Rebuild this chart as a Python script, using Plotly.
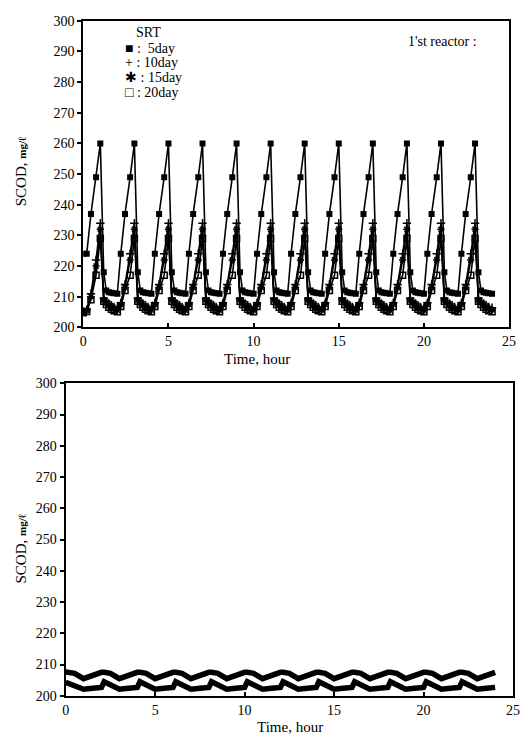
import plotly.graph_objects as go

# ---------------- data: top panel (1'st reactor) ----------------
t_top = [
    0, 0.2, 0.45, 0.75, 1, 1.2, 1.35, 1.5, 1.65, 1.8,
    2, 2.2, 2.45, 2.75, 3, 3.2, 3.35, 3.5, 3.65, 3.8,
    4, 4.2, 4.45, 4.75, 5, 5.2, 5.35, 5.5, 5.65, 5.8,
    6, 6.2, 6.45, 6.75, 7, 7.2, 7.35, 7.5, 7.65, 7.8,
    8, 8.2, 8.45, 8.75, 9, 9.2, 9.35, 9.5, 9.65, 9.8,
    10, 10.2, 10.45, 10.75, 11, 11.2, 11.35, 11.5, 11.65, 11.8,
    12, 12.2, 12.45, 12.75, 13, 13.2, 13.35, 13.5, 13.65, 13.8,
    14, 14.2, 14.45, 14.75, 15, 15.2, 15.35, 15.5, 15.65, 15.8,
    16, 16.2, 16.45, 16.75, 17, 17.2, 17.35, 17.5, 17.65, 17.8,
    18, 18.2, 18.45, 18.75, 19, 19.2, 19.35, 19.5, 19.65, 19.8,
    20, 20.2, 20.45, 20.75, 21, 21.2, 21.35, 21.5, 21.65, 21.8,
    22, 22.2, 22.45, 22.75, 23, 23.2, 23.35, 23.5, 23.65, 23.8,
    24,
]
scod_5day = [
    224, 224, 237, 249, 260, 218, 212, 211.5, 211.3, 211.1,
    211, 224, 237, 249, 260, 218, 212, 211.5, 211.3, 211.1,
    211, 224, 237, 249, 260, 218, 212, 211.5, 211.3, 211.1,
    211, 224, 237, 249, 260, 218, 212, 211.5, 211.3, 211.1,
    211, 224, 237, 249, 260, 218, 212, 211.5, 211.3, 211.1,
    211, 224, 237, 249, 260, 218, 212, 211.5, 211.3, 211.1,
    211, 224, 237, 249, 260, 218, 212, 211.5, 211.3, 211.1,
    211, 224, 237, 249, 260, 218, 212, 211.5, 211.3, 211.1,
    211, 224, 237, 249, 260, 218, 212, 211.5, 211.3, 211.1,
    211, 224, 237, 249, 260, 218, 212, 211.5, 211.3, 211.1,
    211, 224, 237, 249, 260, 218, 212, 211.5, 211.3, 211.1,
    211, 224, 237, 249, 260, 218, 212, 211.5, 211.3, 211.1,
    211,
]
scod_10day = [
    205.2, 205.8, 211, 222, 234, 209.5, 208.5, 207.8, 207.2, 206.7,
    206.3, 208, 214, 224, 234, 209.5, 208.5, 207.8, 207.2, 206.7,
    206.3, 208, 214, 224, 234, 209.5, 208.5, 207.8, 207.2, 206.7,
    206.3, 208, 214, 224, 234, 209.5, 208.5, 207.8, 207.2, 206.7,
    206.3, 208, 214, 224, 234, 209.5, 208.5, 207.8, 207.2, 206.7,
    206.3, 208, 214, 224, 234, 209.5, 208.5, 207.8, 207.2, 206.7,
    206.3, 208, 214, 224, 234, 209.5, 208.5, 207.8, 207.2, 206.7,
    206.3, 208, 214, 224, 234, 209.5, 208.5, 207.8, 207.2, 206.7,
    206.3, 208, 214, 224, 234, 209.5, 208.5, 207.8, 207.2, 206.7,
    206.3, 208, 214, 224, 234, 209.5, 208.5, 207.8, 207.2, 206.7,
    206.3, 208, 214, 224, 234, 209.5, 208.5, 207.8, 207.2, 206.7,
    206.3, 208, 214, 224, 234, 209.5, 208.5, 207.8, 207.2, 206.7,
    206.4,
]
scod_15day = [
    205, 205.5, 210, 220, 232, 209, 208, 207.2, 206.5, 206,
    205.6, 207.5, 213, 222, 232, 209, 208, 207.2, 206.5, 206,
    205.6, 207.5, 213, 222, 232, 209, 208, 207.2, 206.5, 206,
    205.6, 207.5, 213, 222, 232, 209, 208, 207.2, 206.5, 206,
    205.6, 207.5, 213, 222, 232, 209, 208, 207.2, 206.5, 206,
    205.6, 207.5, 213, 222, 232, 209, 208, 207.2, 206.5, 206,
    205.6, 207.5, 213, 222, 232, 209, 208, 207.2, 206.5, 206,
    205.6, 207.5, 213, 222, 232, 209, 208, 207.2, 206.5, 206,
    205.6, 207.5, 213, 222, 232, 209, 208, 207.2, 206.5, 206,
    205.6, 207.5, 213, 222, 232, 209, 208, 207.2, 206.5, 206,
    205.6, 207.5, 213, 222, 232, 209, 208, 207.2, 206.5, 206,
    205.6, 207.5, 213, 222, 232, 209, 208, 207.2, 206.5, 206,
    205.7,
]
scod_20day = [
    204.8, 205.2, 209, 217, 229, 208.5, 207.5, 206.6, 205.9, 205.4,
    205.1, 206.8, 212, 217, 229, 208.5, 207.5, 206.6, 205.9, 205.4,
    205.1, 206.8, 212, 217, 229, 208.5, 207.5, 206.6, 205.9, 205.4,
    205.1, 206.8, 212, 217, 229, 208.5, 207.5, 206.6, 205.9, 205.4,
    205.1, 206.8, 212, 217, 229, 208.5, 207.5, 206.6, 205.9, 205.4,
    205.1, 206.8, 212, 217, 229, 208.5, 207.5, 206.6, 205.9, 205.4,
    205.1, 206.8, 212, 217, 229, 208.5, 207.5, 206.6, 205.9, 205.4,
    205.1, 206.8, 212, 217, 229, 208.5, 207.5, 206.6, 205.9, 205.4,
    205.1, 206.8, 212, 217, 229, 208.5, 207.5, 206.6, 205.9, 205.4,
    205.1, 206.8, 212, 217, 229, 208.5, 207.5, 206.6, 205.9, 205.4,
    205.1, 206.8, 212, 217, 229, 208.5, 207.5, 206.6, 205.9, 205.4,
    205.1, 206.8, 212, 217, 229, 208.5, 207.5, 206.6, 205.9, 205.4,
    205.1,
]

# ---------------- data: bottom panel ----------------
t_bot = [
    0, 0.15, 0.5, 1, 1.5, 1.85,
    2, 2.15, 2.5, 3, 3.5, 3.85,
    4, 4.15, 4.5, 5, 5.5, 5.85,
    6, 6.15, 6.5, 7, 7.5, 7.85,
    8, 8.15, 8.5, 9, 9.5, 9.85,
    10, 10.15, 10.5, 11, 11.5, 11.85,
    12, 12.15, 12.5, 13, 13.5, 13.85,
    14, 14.15, 14.5, 15, 15.5, 15.85,
    16, 16.15, 16.5, 17, 17.5, 17.85,
    18, 18.15, 18.5, 19, 19.5, 19.85,
    20, 20.15, 20.5, 21, 21.5, 21.85,
    22, 22.15, 22.5, 23, 23.5, 23.85,
    24,
]
scod_upper = [
    207.6, 207.5, 207.2, 205.5, 206.6, 207.5,
    207.5, 207.5, 207.2, 205.5, 206.6, 207.5,
    207.5, 207.5, 207.2, 205.5, 206.6, 207.5,
    207.5, 207.5, 207.2, 205.5, 206.6, 207.5,
    207.5, 207.5, 207.2, 205.5, 206.6, 207.5,
    207.5, 207.5, 207.2, 205.5, 206.6, 207.5,
    207.5, 207.5, 207.2, 205.5, 206.6, 207.5,
    207.5, 207.5, 207.2, 205.5, 206.6, 207.5,
    207.5, 207.5, 207.2, 205.5, 206.6, 207.5,
    207.5, 207.5, 207.2, 205.5, 206.6, 207.5,
    207.5, 207.5, 207.2, 205.5, 206.6, 207.5,
    207.5, 207.5, 207.2, 205.5, 206.6, 207.5,
    207.5,
]
scod_lower = [
    204.3, 204.0, 203.4, 202.1, 202.4, 202.6,
    202.7, 204.5, 203.6, 202.1, 202.4, 202.6,
    202.7, 204.5, 203.6, 202.1, 202.4, 202.6,
    202.7, 204.5, 203.6, 202.1, 202.4, 202.6,
    202.7, 204.5, 203.6, 202.1, 202.4, 202.6,
    202.7, 204.5, 203.6, 202.1, 202.4, 202.6,
    202.7, 204.5, 203.6, 202.1, 202.4, 202.6,
    202.7, 204.5, 203.6, 202.1, 202.4, 202.6,
    202.7, 204.5, 203.6, 202.1, 202.4, 202.6,
    202.7, 204.5, 203.6, 202.1, 202.4, 202.6,
    202.7, 204.5, 203.6, 202.1, 202.4, 202.6,
    202.7, 204.5, 203.6, 202.1, 202.4, 202.6,
    202.7,
]

x_ticks = [0, 5, 10, 15, 20, 25]
y_ticks = [200, 210, 220, 230, 240, 250, 260, 270, 280, 290, 300]
legend_title = "SRT"
legend_labels = ["■ :  5day", "+ : 10day", "✱ : 15day", "□ : 20day"]

W, H = 521, 743
def px(x):
    return x / W
def py(y):
    return 1 - y / H

FONT = "Liberation Serif"
fig = go.Figure()

ln = dict(color="black", width=1.6)
fig.add_trace(go.Scatter(x=t_top, y=scod_5day, mode="lines+markers", line=ln,
                         marker=dict(symbol="square", size=6, color="black"),
                         name="5day", xaxis="x", yaxis="y"))
fig.add_trace(go.Scatter(x=t_top, y=scod_10day, mode="lines+markers", line=ln,
                         marker=dict(symbol="cross-thin", size=6, line=dict(color="black", width=1.5)),
                         name="10day", xaxis="x", yaxis="y"))
fig.add_trace(go.Scatter(x=t_top, y=scod_15day, mode="lines+markers", line=ln,
                         marker=dict(symbol="asterisk", size=6, line=dict(color="black", width=1.5)),
                         name="15day", xaxis="x", yaxis="y"))
fig.add_trace(go.Scatter(x=t_top, y=scod_20day, mode="lines+markers", line=ln,
                         marker=dict(symbol="square-open", size=6, color="black", line=dict(width=1.5)),
                         name="20day", xaxis="x", yaxis="y"))

fig.add_trace(go.Scatter(x=t_bot, y=scod_upper, mode="lines",
                         line=dict(color="black", width=5.5), name="upper",
                         xaxis="x2", yaxis="y2"))
fig.add_trace(go.Scatter(x=t_bot, y=scod_lower, mode="lines",
                         line=dict(color="black", width=5.5), name="lower",
                         xaxis="x2", yaxis="y2"))

axis_common = dict(showline=True, linecolor="black", linewidth=2, mirror=True,
                   tickwidth=1.5, tickcolor="black",
                   showgrid=False, zeroline=False, ticklabeloverflow="allow",
                   tickfont=dict(family=FONT, size=14, color="black"))

fig.update_layout(
    width=W, height=H,
    margin=dict(l=0, r=0, t=0, b=0),
    paper_bgcolor="white", plot_bgcolor="white",
    showlegend=False,
    xaxis=dict(domain=[px(81), px(516)], range=[0, 25], tickvals=x_ticks,
               anchor="y", ticks="inside", ticklen=4, **axis_common),
    yaxis=dict(domain=[py(327), py(14)], range=[200, 300], tickvals=y_ticks,
               anchor="x", ticks="outside", ticklen=4, **axis_common),
    xaxis2=dict(domain=[px(63), px(520)], range=[0, 25], tickvals=x_ticks,
                anchor="y2", ticks="inside", ticklen=4, **axis_common),
    yaxis2=dict(domain=[py(703), py(384)], range=[200, 300], tickvals=y_ticks,
                anchor="x2", ticks="outside", ticklen=4, **axis_common),
)

ann = []
def add_text(x, y, text, size=14, angle=0, xanchor="center"):
    ann.append(dict(x=px(x), y=py(y), xref="paper", yref="paper", text=text,
                    textangle=angle, showarrow=False, xanchor=xanchor, yanchor="middle",
                    font=dict(family=FONT, size=size, color="black")))

ytitle = "SCOD, <b><span style='font-size:11px'>mg/ℓ</span></b>"
add_text(17, 168, ytitle, size=15, angle=-90)
add_text(17, 553, ytitle, size=15, angle=-90)
add_text(258, 359, "Time, hour", size=15)
add_text(292, 735, "Time, hour", size=15)
add_text(148, 26, legend_title)
for i, lab in enumerate(legend_labels):
    add_text(122, 42 + 15 * i, lab, xanchor="left")
add_text(448, 35, "1'st reactor :")
fig.update_layout(annotations=ann)

fig.write_html("out.html")
